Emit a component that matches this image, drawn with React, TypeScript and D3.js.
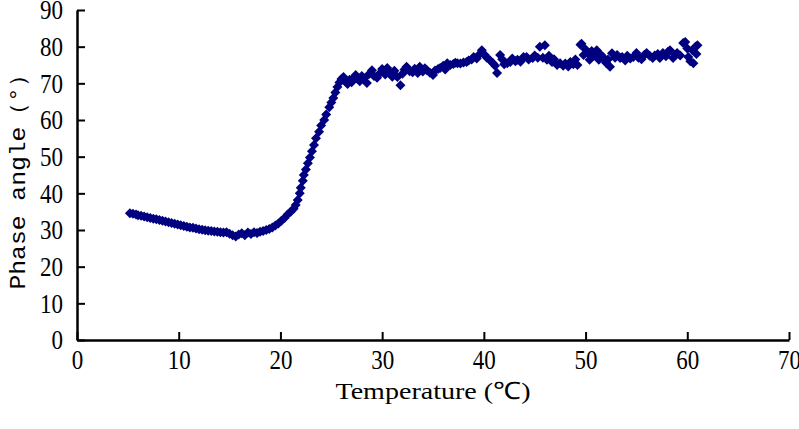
import React from "react";
import * as d3 from "d3";

// cooling branch: phase angle slowly drops to a minimum near 16 C
const coolTemp = [
  5.2, 5.5, 5.8, 6.0, 6.3, 6.6, 6.9, 7.2, 7.5, 7.8,
  8.1, 8.4, 8.7, 9.0, 9.3, 9.6, 9.9, 10.2, 10.5, 10.8,
  11.1, 11.4, 11.7, 12.0, 12.3, 12.6, 12.9, 13.2, 13.5, 13.8,
  14.1, 14.4, 14.7, 15.0, 15.3, 15.6, 15.9, 16.2, 16.5, 16.8,
  17.1, 17.4, 17.7, 18.0, 18.3, 18.6, 18.9, 19.2, 19.5, 19.8,
  20.1, 20.4, 20.7, 21.0,
];
const coolPhase = [
  34.6, 34.4, 34.2, 34.0, 33.9, 33.7, 33.5, 33.3, 33.1, 32.9,
  32.7, 32.5, 32.3, 32.1, 31.9, 31.7, 31.5, 31.3, 31.1, 30.9,
  30.7, 30.6, 30.4, 30.2, 30.1, 29.9, 29.8, 29.7, 29.6, 29.5,
  29.4, 29.3, 29.4, 29.0, 28.6, 28.2, 28.8, 29.1, 28.6, 29.3,
  28.9, 29.4, 29.2, 29.5, 29.7, 30.0, 30.3, 30.7, 31.2, 31.8,
  32.5, 33.3, 34.2, 35.0,
];

// steep rise between 21 and 26 C
const riseTemp = [
  21.3, 21.5, 21.7, 21.9, 22.0, 22.2, 22.3, 22.5, 22.7, 22.9,
  23.1, 23.3, 23.5, 23.8, 24.0, 24.3, 24.5, 24.8, 25.0, 25.2,
  25.4, 25.6, 25.8, 26.0,
];
const risePhase = [
  35.8, 36.8, 38.2, 40.0, 41.5, 43.4, 45.0, 46.5, 48.2, 49.8,
  51.5, 53.2, 55.0, 56.8, 58.5, 60.0, 61.5, 63.5, 64.8, 66.0,
  67.5, 69.0, 70.2, 71.2,
];

// noisy plateau above 26 C
const plateauTemp = [
  26.2, 26.4, 26.6, 26.8, 27.0, 27.2, 27.4, 27.6, 27.8, 28.0,
  28.2, 28.5, 28.7, 29.0, 29.2, 29.5, 29.8, 30.0, 30.3, 30.5,
  30.7, 31.0, 31.2, 31.5, 31.8, 32.0, 32.2, 32.4, 32.7, 33.0,
  33.2, 33.5, 33.7, 34.0, 34.2, 34.4, 34.7, 35.0, 35.2, 35.5,
  35.7, 36.0, 36.2, 36.4, 36.7, 37.0, 37.2, 37.4, 37.7, 38.0,
  38.3, 38.5, 38.8, 39.0, 39.3, 39.6, 39.8, 40.1, 40.3, 40.6,
  40.9, 41.1, 41.3, 41.6, 41.8, 42.0, 42.3, 42.6, 42.8, 43.1,
  43.3, 43.6, 43.9, 44.2, 44.4, 44.8, 45.0, 45.3, 45.5, 45.8,
  46.0, 46.2, 46.4, 46.7, 46.9, 47.2, 47.5, 47.8, 48.0, 48.3,
  48.5, 48.8, 49.0, 49.2, 49.5, 49.6, 49.8, 50.0, 50.2, 50.4,
  50.6, 50.8, 51.1, 51.3, 51.5, 51.7, 52.0, 52.2, 52.4, 52.6,
  52.9, 53.1, 53.4, 53.6, 53.9, 54.1, 54.4, 54.7, 55.0, 55.2,
  55.5, 55.8, 56.0, 56.3, 56.6, 56.8, 57.1, 57.3, 57.6, 57.9,
  58.1, 58.3, 58.6, 58.8, 59.0, 59.3, 59.6, 59.8, 60.0, 60.1,
  60.3, 60.5, 60.6, 60.8, 60.9, 61.0,
];
const plateauPhase = [
  71.7, 70.5, 69.8, 71.0, 70.3, 71.5, 72.3, 71.2, 70.6, 72.0,
  71.4, 70.1, 72.5, 73.6, 72.0, 71.5, 72.8, 73.9, 72.4, 74.2,
  73.0, 71.8, 73.4, 71.7, 69.5, 72.6, 73.8, 74.5, 73.3, 73.0,
  74.0, 72.8, 74.5, 73.2, 74.1, 73.6, 72.9, 72.3, 73.5, 73.9,
  74.2, 74.8, 73.8, 75.5, 75.0, 75.3, 75.6, 75.5, 75.4, 75.7,
  75.8, 76.2, 76.5, 77.2, 76.8, 78.0, 79.0, 77.7, 77.0, 76.3,
  75.5, 74.8, 72.8, 77.7, 76.6, 75.2, 75.5, 75.8, 76.8, 76.0,
  76.4, 75.9, 77.2, 77.2, 76.5, 76.9, 77.6, 77.0, 80.0, 77.0,
  80.4, 76.4, 77.5, 75.8, 76.6, 75.0, 75.5, 74.8, 75.4, 74.6,
  75.8, 75.2, 76.5, 75.0, 80.5, 80.8, 77.7, 79.2, 78.3, 76.4,
  78.8, 77.5, 79.0, 76.4, 77.8, 77.2, 75.6, 76.5, 74.5, 78.2,
  77.0, 77.7, 76.9, 77.2, 76.2, 77.5, 76.8, 77.2, 78.3, 77.0,
  76.6, 77.8, 78.3, 77.5, 76.9, 77.6, 78.0, 76.9, 78.3, 77.4,
  78.6, 79.0, 76.9, 77.8, 78.3, 77.6, 81.0, 81.3, 79.5, 77.2,
  76.0, 79.0, 75.5, 80.0, 78.0, 80.4,
];

const xTicks = [0, 10, 20, 30, 40, 50, 60, 70];
const yTicks = [0, 10, 20, 30, 40, 50, 60, 70, 80, 90];

const serif = "Liberation Serif, Times New Roman, serif";
const mono = "Liberation Mono, Courier New, monospace";

const App = () => {
  const width = 799;
  const height = 429;
  const svgRef = React.useRef<SVGSVGElement>(null);

  React.useEffect(() => {
    const temps = [...coolTemp, ...riseTemp, ...plateauTemp];
    const phases = [...coolPhase, ...risePhase, ...plateauPhase];
    const data = temps.map((t, i) => ({ t, v: phases[i] }));

    const xScale = d3.scaleLinear().domain([0, 70]).range([77, 789]);
    const yScale = d3.scaleLinear().domain([0, 90]).range([340, 10]);

    const svg = d3.select(svgRef.current);
    svg.selectAll("*").remove();

    // x axis, ticks pointing up into the plot
    const xAxis = svg
      .append("g")
      .attr("transform", "translate(0,340)")
      .call(
        d3.axisBottom(xScale).tickValues(xTicks).tickSize(-8).tickSizeOuter(0).tickPadding(8)
      );

    // y axis, ticks pointing right
    const yAxis = svg
      .append("g")
      .attr("transform", "translate(77,0)")
      .call(
        d3.axisLeft(yScale).tickValues(yTicks).tickSize(-8).tickSizeOuter(0).tickPadding(14)
      );

    [xAxis, yAxis].forEach((g) => {
      g.attr("font-family", serif).attr("font-size", 23);
      g.select(".domain").attr("stroke", "#000").attr("stroke-width", 2.5);
      g.selectAll(".tick line").attr("stroke", "#000").attr("stroke-width", 2);
      // the original digits are tall and narrow
      g.selectAll(".tick text").attr("fill", "#000").attr("transform", "scale(1,1.2)");
    });

    // diamond markers
    const diamond = d3.symbol().type(d3.symbolSquare).size(50);
    svg
      .append("g")
      .selectAll("path")
      .data(data)
      .join("path")
      .attr("d", diamond)
      .attr("fill", "#000080")
      .attr(
        "transform",
        (d) => `translate(${xScale(d.t)},${yScale(d.v)}) rotate(45)`
      );

    // axis titles
    svg
      .append("text")
      .attr("x", 433)
      .attr("y", 399)
      .attr("text-anchor", "middle")
      .attr("font-family", serif)
      .attr("font-size", 24)
      .attr("textLength", 195)
      .attr("lengthAdjust", "spacingAndGlyphs")
      .text("Temperature (℃)");

    svg
      .append("text")
      .attr("transform", "translate(25,176) rotate(-90)")
      .attr("text-anchor", "middle")
      .attr("font-family", mono)
      .attr("font-size", 22)
      .attr("textLength", 227)
      .attr("lengthAdjust", "spacingAndGlyphs")
      .text("Phase angle（°）");
  }, []);

  return (
    <svg
      ref={svgRef}
      width={width}
      height={height}
      style={{ position: "absolute", left: 0, top: 0, background: "#fff" }}
    />
  );
};

export default App;
